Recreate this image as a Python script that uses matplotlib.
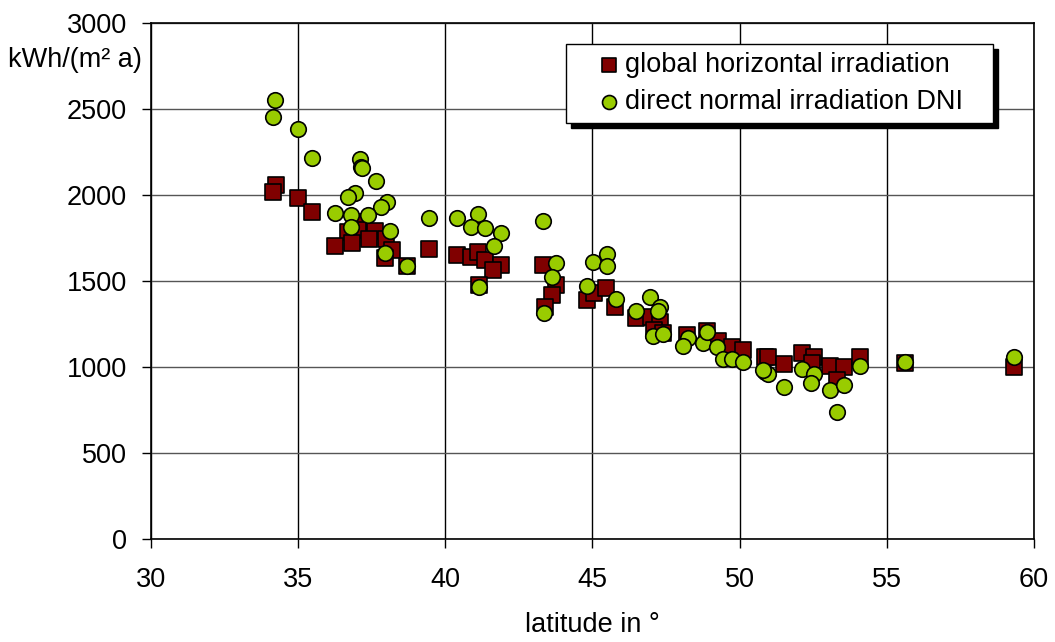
import matplotlib.pyplot as plt
from matplotlib.legend_handler import HandlerPathCollection

plt.rcParams['font.family'] = ['Liberation Sans', 'DejaVu Sans']

# global horizontal irradiation (squares)
ghi_lat = [34.24, 34.16, 35.00, 35.48, 37.16, 37.05, 36.70, 37.61, 37.41, 38.00,
           36.25, 36.82, 38.18, 37.95, 38.71, 39.43, 40.39, 40.86, 41.12, 41.35,
           41.88, 41.63, 41.16, 43.31, 43.75, 43.61, 43.39, 44.80, 45.05, 45.46,
           45.77, 46.47, 46.98, 47.29, 47.09, 47.38, 48.20, 48.88, 49.28, 49.73,
           50.13, 50.86, 50.95, 51.52, 52.11, 52.54, 52.47, 53.07, 53.55, 53.30,
           54.09, 55.62, 59.33]
ghi_val = [2058, 2019, 1981, 1899, 1845, 1797, 1787, 1790, 1742, 1742,
           1703, 1719, 1683, 1632, 1589, 1686, 1651, 1641, 1670, 1622,
           1593, 1564, 1477, 1593, 1477, 1419, 1347, 1390, 1432, 1457,
           1347, 1283, 1292, 1263, 1215, 1195, 1186, 1210, 1152, 1118,
           1101, 1058, 1060, 1017, 1080, 1056, 1025, 1008, 998, 924,
           1060, 1021, 1000]

# direct normal irradiation DNI (circles)
dni_lat = [34.21, 34.16, 35.00, 35.48, 37.10, 37.12, 37.16, 37.63, 36.93, 36.68,
           38.01, 37.80, 36.26, 36.80, 37.39, 39.44, 36.81, 38.12, 37.95, 38.71,
           40.39, 41.10, 40.86, 41.35, 41.88, 41.65, 41.16, 43.31, 43.75, 43.61,
           43.36, 45.03, 45.48, 45.48, 44.80, 45.79, 46.95, 46.48, 47.29, 47.22,
           47.07, 47.38, 48.23, 48.08, 48.77, 48.88, 49.22, 49.43, 49.73, 50.13,
           50.86, 50.95, 50.80, 51.52, 52.11, 52.54, 52.41, 53.07, 53.55, 53.30,
           54.09, 55.62, 59.33]
dni_val = [2552, 2452, 2382, 2215, 2207, 2164, 2155, 2083, 2012, 1990,
           1961, 1928, 1898, 1882, 1884, 1868, 1816, 1789, 1661, 1589,
           1868, 1890, 1816, 1806, 1777, 1703, 1467, 1847, 1603, 1521,
           1312, 1612, 1657, 1589, 1471, 1395, 1409, 1327, 1351, 1327,
           1182, 1190, 1167, 1122, 1141, 1202, 1118, 1049, 1049, 1027,
           973, 960, 985, 886, 987, 959, 905, 866, 895, 740,
           1008, 1027, 1056]

fs = 19.5

fig = plt.figure(figsize=(10.55, 6.42), dpi=100)
ax = fig.add_axes([0.1431, 0.1604, 0.8370, 0.8038])

ax.scatter(ghi_lat, ghi_val, marker='s', s=120, c='#800000', edgecolors='black',
           linewidths=1.2, label='global horizontal irradiation', zorder=3)
ax.scatter(dni_lat, dni_val, marker='o', s=125, c='#99CC00', edgecolors='black',
           linewidths=1.2, label='direct normal irradiation DNI', zorder=4)

ax.set_xlim(30, 60)
ax.set_ylim(0, 3000)
ax.set_xticks(range(30, 61, 5))
ax.set_yticks(range(0, 3001, 500))
ax.xaxis.grid(True, color='black', linewidth=1)
ax.yaxis.grid(True, color='#555555', linewidth=1)
ax.set_axisbelow(True)
for sp in ax.spines.values():
    sp.set_color('black')
    sp.set_linewidth(1.2)
ax.tick_params(labelsize=fs, direction='out', length=6.5, width=1, pad=11)
ax.tick_params(axis='x', pad=14)

ax.set_xlabel('latitude in °', fontsize=fs, labelpad=13)
fig.text(0.0076, 0.9065, 'kWh/(m² a)', fontsize=fs, ha='left', va='center')

leg = ax.legend(loc='upper left', bbox_to_anchor=(0.470, 0.5, 0.4836, 0.4593),
                mode='expand', borderaxespad=0, fontsize=fs,
                frameon=True, fancybox=False, edgecolor='black', framealpha=1,
                markerscale=0.9, handletextpad=0.2, borderpad=0.3,
                labelspacing=0.41, handlelength=1.68,
                handler_map={type(ax.collections[0]): HandlerPathCollection(xpad=0.9)},
                shadow={'ox': 3.6, 'oy': -3.6, 'facecolor': 'black',
                        'edgecolor': 'black', 'alpha': 1})
leg.get_frame().set_linewidth(1)

plt.savefig('out.png', dpi=100)
